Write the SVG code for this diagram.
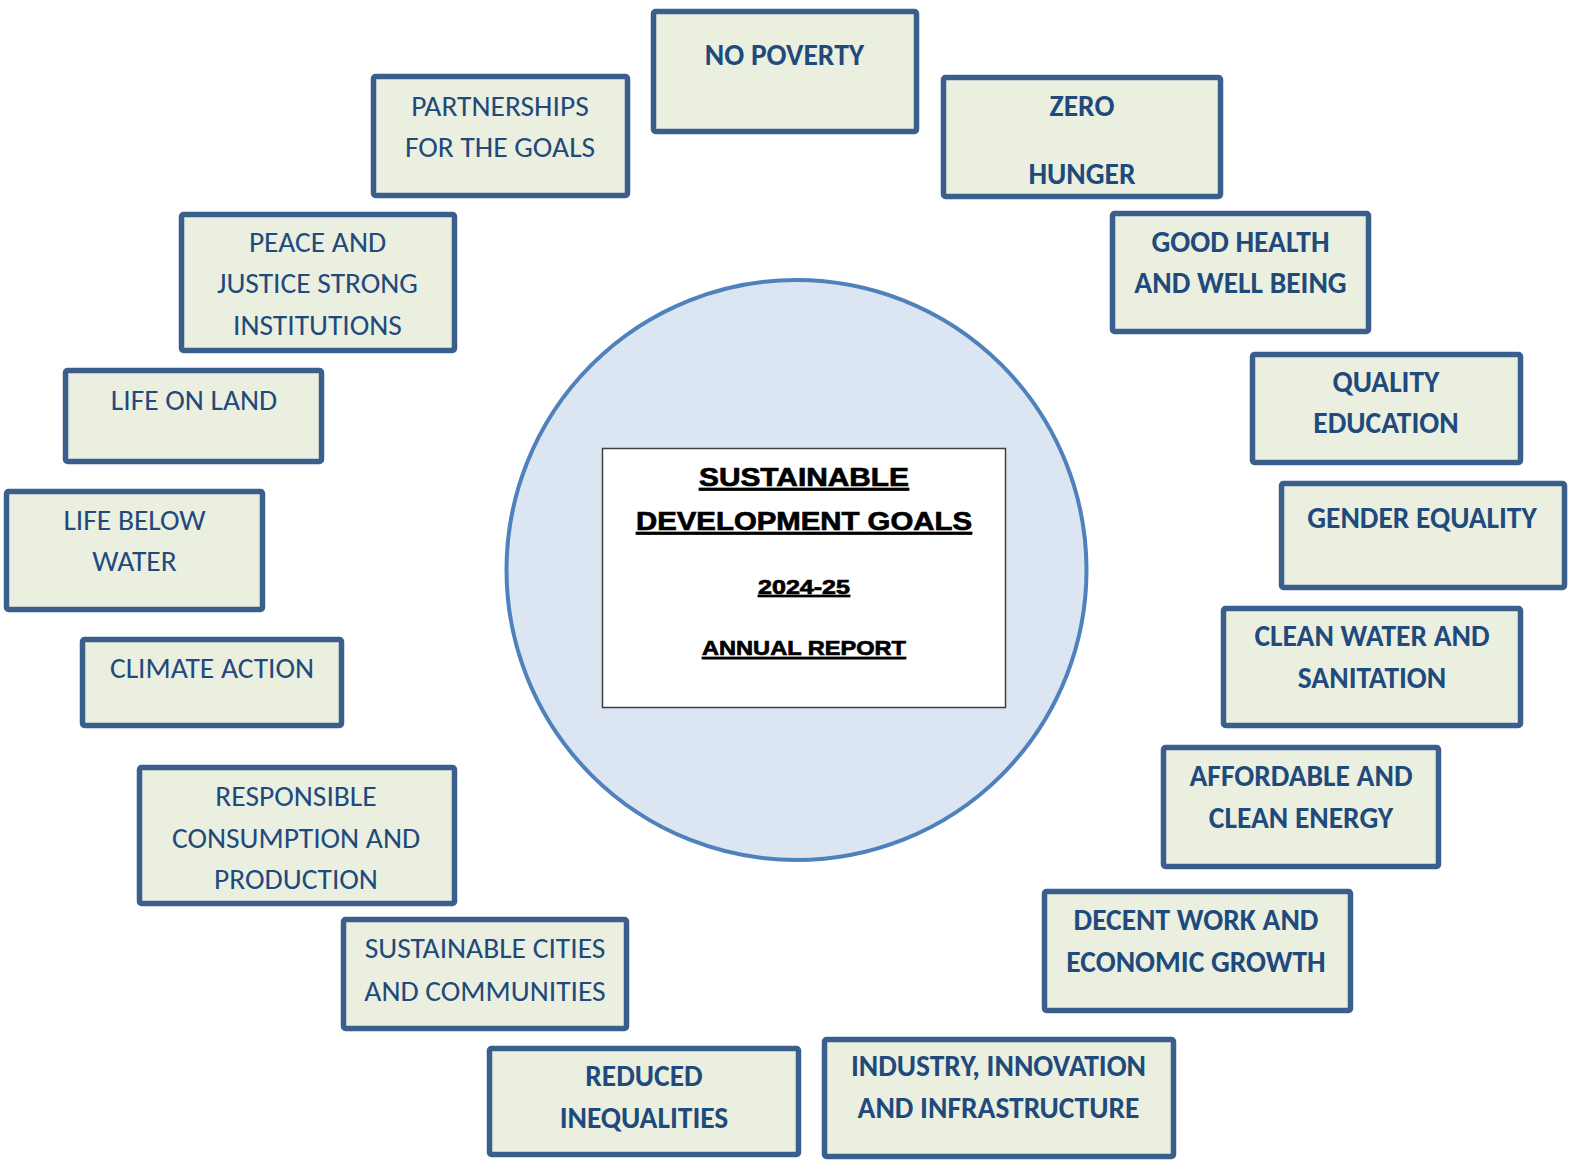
<svg xmlns="http://www.w3.org/2000/svg" width="1575" height="1169" viewBox="0 0 1575 1169">
<style>
.box{fill:#ebefdf;stroke:#3b5f8c;stroke-width:5.5}
.t{font-family:Carlito,Lato,"Liberation Sans",sans-serif;font-size:29.5px;fill:#204a7c;text-anchor:middle}
.b{font-weight:bold}
.c{font-family:"Liberation Sans",Arial,sans-serif;font-weight:bold;fill:#000;stroke:#000;stroke-width:0.7;text-anchor:middle;text-decoration:underline}
</style>
<rect width="1575" height="1169" fill="#ffffff"/>
<g id="center">
<circle cx="796.5" cy="570" r="290" fill="#dce6f2" stroke="#4f81bd" stroke-width="4"/>
<rect x="602.5" y="448.5" width="403" height="259" fill="#ffffff" stroke="#3f3f3f" stroke-width="1.5"/>
<text class="c" x="804" y="486" font-size="26" textLength="210" lengthAdjust="spacingAndGlyphs">SUSTAINABLE</text>
<text class="c" x="804" y="530" font-size="26" textLength="336" lengthAdjust="spacingAndGlyphs">DEVELOPMENT GOALS</text>
<text class="c" x="804" y="594" font-size="20" textLength="92" lengthAdjust="spacingAndGlyphs">2024-25</text>
<text class="c" x="804" y="655" font-size="21" textLength="204" lengthAdjust="spacingAndGlyphs">ANNUAL REPORT</text>
</g>
<g id="no-poverty"><rect class="box" x="653.5" y="11.5" width="263" height="120" rx="2"/><text class="t b" x="784.5" y="65">NO POVERTY</text></g>
<g id="zero-hunger"><rect class="box" x="943.5" y="77.5" width="277" height="119" rx="2"/><text class="t b" x="1082" y="115.5">ZERO</text><text class="t b" x="1082" y="184">HUNGER</text></g>
<g id="partnerships"><rect class="box" x="373.5" y="76.5" width="254" height="119" rx="2"/><text class="t" x="500" y="115.5">PARTNERSHIPS</text><text class="t" x="500" y="157">FOR THE GOALS</text></g>
<g id="good-health"><rect class="box" x="1112.5" y="213.5" width="256" height="118" rx="2"/><text class="t b" x="1240.5" y="252">GOOD HEALTH</text><text class="t b" x="1240.5" y="293">AND WELL BEING</text></g>
<g id="peace-justice"><rect class="box" x="181.5" y="214.5" width="273" height="136" rx="2"/><text class="t" x="317.5" y="252">PEACE AND</text><text class="t" x="317.5" y="293">JUSTICE STRONG</text><text class="t" x="317.5" y="334.5">INSTITUTIONS</text></g>
<g id="quality-education"><rect class="box" x="1252.5" y="354.5" width="268" height="108" rx="2"/><text class="t b" x="1386" y="392">QUALITY</text><text class="t b" x="1386" y="433">EDUCATION</text></g>
<g id="life-on-land"><rect class="box" x="65.5" y="370.5" width="256" height="91" rx="2"/><text class="t" x="194" y="410">LIFE ON LAND</text></g>
<g id="gender-equality"><rect class="box" x="1281.5" y="483.5" width="283" height="104" rx="2"/><text class="t b" x="1422" y="528">GENDER EQUALITY</text></g>
<g id="life-below-water"><rect class="box" x="6.5" y="491.5" width="256" height="118" rx="2"/><text class="t" x="134.5" y="529.5">LIFE BELOW</text><text class="t" x="134.5" y="570.5">WATER</text></g>
<g id="clean-water"><rect class="box" x="1223.5" y="608.5" width="297" height="117" rx="2"/><text class="t b" x="1372" y="646">CLEAN WATER AND</text><text class="t b" x="1372" y="688">SANITATION</text></g>
<g id="climate-action"><rect class="box" x="82.5" y="639.5" width="259" height="86" rx="2"/><text class="t" x="212" y="678">CLIMATE ACTION</text></g>
<g id="affordable-energy"><rect class="box" x="1163.5" y="747.5" width="275" height="119" rx="2"/><text class="t b" x="1301" y="785.5">AFFORDABLE AND</text><text class="t b" x="1301" y="828">CLEAN ENERGY</text></g>
<g id="responsible-consumption"><rect class="box" x="139.5" y="767.5" width="315" height="136" rx="2"/><text class="t" x="296" y="805.5">RESPONSIBLE</text><text class="t" x="296" y="848">CONSUMPTION AND</text><text class="t" x="296" y="889">PRODUCTION</text></g>
<g id="decent-work"><rect class="box" x="1044.5" y="891.5" width="306" height="119" rx="2"/><text class="t b" x="1196" y="930">DECENT WORK AND</text><text class="t b" x="1196" y="971.5">ECONOMIC GROWTH</text></g>
<g id="sustainable-cities"><rect class="box" x="343.5" y="919.5" width="283" height="109" rx="2"/><text class="t" x="485" y="958">SUSTAINABLE CITIES</text><text class="t" x="485" y="1000.5">AND COMMUNITIES</text></g>
<g id="reduced-inequalities"><rect class="box" x="489.5" y="1048.5" width="309" height="106" rx="2"/><text class="t b" x="644" y="1086">REDUCED</text><text class="t b" x="644" y="1128">INEQUALITIES</text></g>
<g id="industry-innovation"><rect class="box" x="824.5" y="1039.5" width="349" height="117" rx="2"/><text class="t b" x="998.5" y="1076">INDUSTRY, INNOVATION</text><text class="t b" x="998.5" y="1118">AND INFRASTRUCTURE</text></g>
<g id="connectors"></g>
</svg>
